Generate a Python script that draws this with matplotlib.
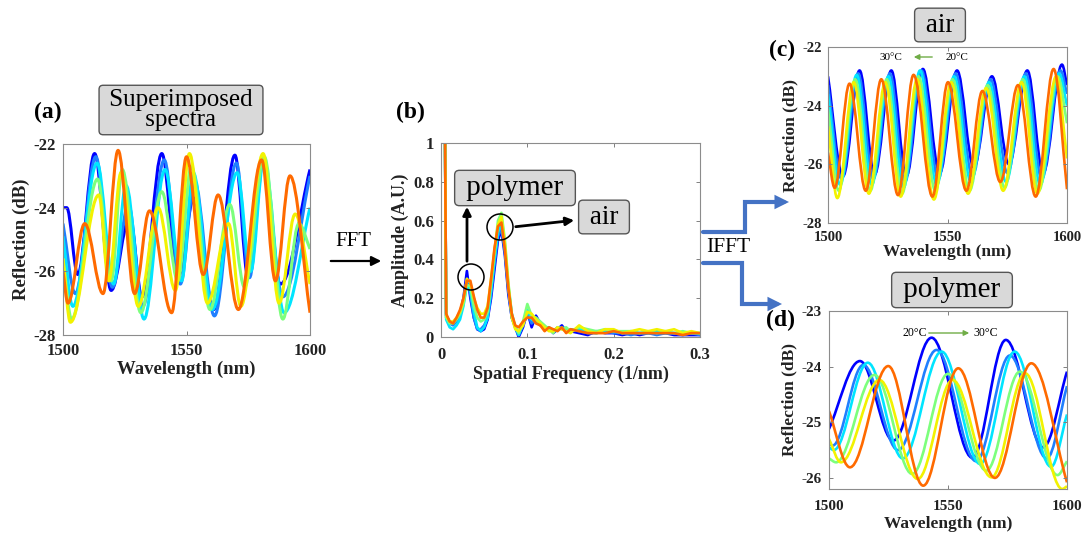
import matplotlib.pyplot as plt
from matplotlib.path import Path
from matplotlib.patches import PathPatch, FancyArrowPatch, Ellipse

plt.rcParams['font.family'] = ['Liberation Serif', 'DejaVu Serif']
plt.rcParams['axes.unicode_minus'] = False

# jet-like colours, 20 C (blue) -> 30 C (orange)
colors = ['#0000ff', '#1f7fff', '#00e5ff', '#7cff7c', '#f2f200', '#ff6a00']

# ---- (a) superimposed spectra: extrema (wavelength nm, dB) per curve
a_x = [
    [1500, 1501.5, 1506, 1512.8, 1519.5, 1527, 1532, 1540, 1546.5, 1553, 1561, 1569.6, 1575, 1580.6, 1588, 1600],
    [1500, 1505, 1513.3, 1520, 1526.5, 1532.3, 1541, 1547.5, 1553.3, 1561.3, 1570.2, 1575.5, 1581, 1589, 1600],
    [1500, 1504, 1513.8, 1520.5, 1525.5, 1532.8, 1541.3, 1548, 1552.7, 1560.5, 1570.5, 1576, 1581.3, 1589.5, 1600],
    [1500, 1503.5, 1514, 1519.5, 1524, 1531.5, 1540, 1546.5, 1552, 1559.5, 1567.5, 1573.5, 1581.5, 1589, 1595.5, 1600],
    [1500, 1503, 1514.5, 1518.5, 1523.5, 1530.5, 1538.5, 1545.5, 1551.2, 1558.5, 1567, 1572, 1581, 1587.5, 1594, 1600],
    [1500, 1502, 1508.8, 1516.2, 1522.3, 1529, 1535, 1544, 1550, 1556.8, 1562.8, 1571, 1580.4, 1586, 1591.9, 1600],
]
a_y = [
    [-24.0, -24.0, -26.1, -22.3, -26.6, -24.3, -26.8, -22.3, -26.2, -23.7, -27.2, -22.35, -26.2, -22.5, -26.4, -22.8],
    [-24.5, -26.7, -22.4, -26.5, -23.9, -27.1, -22.5, -26.4, -23.2, -27.4, -22.6, -26.2, -22.6, -26.8, -23.0],
    [-24.9, -27.1, -22.6, -26.4, -23.3, -27.5, -22.8, -26.3, -22.9, -27.2, -22.9, -26.0, -22.5, -27.3, -24.0],
    [-25.6, -27.5, -23.1, -26.3, -22.8, -27.3, -23.5, -26.3, -22.7, -27.2, -23.9, -26.5, -22.4, -27.5, -24.5, -25.3],
    [-25.6, -27.6, -23.6, -26.3, -22.9, -27.1, -24.0, -26.6, -22.3, -27.0, -24.5, -27.1, -22.3, -27.0, -24.2, -26.4],
    [-26.0, -27.0, -24.5, -26.7, -22.2, -26.7, -24.1, -27.3, -22.4, -26.1, -23.6, -27.2, -22.5, -26.3, -23.0, -27.3],
]

# ---- (b) FFT amplitude
freq = [0.004, 0.006, 0.01, 0.014, 0.018, 0.022, 0.026, 0.03, 0.034, 0.038, 0.042, 0.046, 0.05, 0.054,
        0.058, 0.062, 0.066, 0.07, 0.074, 0.078, 0.082, 0.086, 0.09, 0.095, 0.1, 0.105, 0.11, 0.115,
        0.12, 0.125, 0.13, 0.135, 0.14, 0.145, 0.15, 0.16, 0.17, 0.18, 0.19, 0.2, 0.21, 0.22, 0.23,
        0.24, 0.25, 0.26, 0.27, 0.28, 0.29, 0.3]
amp = [
    [1.5, 0.11, 0.08, 0.07, 0.09, 0.12, 0.2, 0.34, 0.2, 0.1, 0.04, 0.03, 0.04, 0.09, 0.2, 0.35, 0.5, 0.55,
     0.42, 0.22, 0.1, 0.05, 0.0, 0.05, 0.13, 0.05, 0.11, 0.07, 0.04, 0.05, 0.02, 0.04, 0.06, 0.03, 0.03,
     0.02, 0.01, 0.03, 0.02, 0.02, 0.01, 0.02, 0.01, 0.02, 0.02, 0.02, 0.01, 0.01, 0.01, 0.01],
    [1.5, 0.1, 0.07, 0.06, 0.08, 0.11, 0.18, 0.3, 0.22, 0.1, 0.04, 0.04, 0.06, 0.1, 0.22, 0.38, 0.52, 0.56,
     0.44, 0.24, 0.1, 0.05, 0.01, 0.06, 0.12, 0.07, 0.09, 0.06, 0.05, 0.04, 0.03, 0.05, 0.05, 0.03, 0.04,
     0.03, 0.02, 0.02, 0.03, 0.02, 0.02, 0.01, 0.02, 0.02, 0.01, 0.02, 0.02, 0.01, 0.02, 0.01],
    [1.5, 0.09, 0.05, 0.04, 0.06, 0.09, 0.16, 0.27, 0.24, 0.13, 0.05, 0.03, 0.05, 0.1, 0.24, 0.4, 0.54, 0.58,
     0.46, 0.26, 0.12, 0.05, 0.01, 0.07, 0.14, 0.09, 0.08, 0.07, 0.05, 0.05, 0.03, 0.04, 0.05, 0.04, 0.03,
     0.04, 0.03, 0.02, 0.03, 0.03, 0.02, 0.03, 0.02, 0.02, 0.03, 0.02, 0.02, 0.02, 0.02, 0.02],
    [1.5, 0.1, 0.07, 0.07, 0.09, 0.12, 0.17, 0.27, 0.26, 0.16, 0.1, 0.08, 0.09, 0.13, 0.27, 0.44, 0.6, 0.64,
     0.5, 0.28, 0.12, 0.05, 0.02, 0.08, 0.17, 0.11, 0.1, 0.08, 0.06, 0.04, 0.02, 0.05, 0.04, 0.05, 0.03,
     0.05, 0.04, 0.03, 0.04, 0.03, 0.03, 0.03, 0.02, 0.03, 0.02, 0.03, 0.02, 0.03, 0.02, 0.02],
    [1.5, 0.11, 0.08, 0.08, 0.1, 0.13, 0.19, 0.3, 0.28, 0.2, 0.15, 0.12, 0.12, 0.16, 0.3, 0.45, 0.58, 0.62,
     0.48, 0.27, 0.1, 0.04, 0.03, 0.06, 0.13, 0.12, 0.09, 0.07, 0.05, 0.03, 0.03, 0.05, 0.04, 0.03, 0.02,
     0.06, 0.03, 0.02, 0.04, 0.04, 0.02, 0.03, 0.04, 0.03, 0.04, 0.03, 0.04, 0.02, 0.03, 0.02],
    [1.5, 0.12, 0.08, 0.07, 0.1, 0.14, 0.2, 0.29, 0.29, 0.21, 0.14, 0.1, 0.1, 0.15, 0.3, 0.46, 0.57, 0.59,
     0.45, 0.25, 0.12, 0.06, 0.05, 0.08, 0.1, 0.1, 0.07, 0.06, 0.03, 0.05, 0.04, 0.03, 0.05, 0.02, 0.04,
     0.03, 0.02, 0.02, 0.02, 0.03, 0.02, 0.02, 0.02, 0.02, 0.02, 0.02, 0.02, 0.01, 0.02, 0.02],
]

# ---- (c) IFFT, air peak: extrema per curve
c_x = [
    [1500, 1506.3, 1513.2, 1519.5, 1526.5, 1532.8, 1539.7, 1546.7, 1554, 1561, 1568.6, 1575.7, 1583.4, 1590, 1597.9, 1600],
    [1500, 1505.7, 1512.6, 1518.9, 1525.9, 1532.2, 1539.1, 1546.1, 1553.4, 1560.4, 1568.0, 1575.1, 1582.8, 1589.4, 1597.3, 1600],
    [1500, 1505.1, 1512.0, 1518.3, 1525.3, 1531.6, 1538.5, 1545.5, 1552.8, 1559.8, 1567.4, 1574.5, 1582.2, 1588.8, 1596.7, 1600],
    [1500, 1504.5, 1511.4, 1517.7, 1524.6, 1531.0, 1537.9, 1544.9, 1552.2, 1559.2, 1566.8, 1573.9, 1581.6, 1588.2, 1596.1, 1600],
    [1500, 1503.9, 1510.8, 1517.1, 1524.0, 1530.4, 1537.3, 1544.3, 1551.6, 1558.6, 1566.2, 1573.3, 1581.0, 1587.6, 1595.5, 1600],
    [1500, 1502.8, 1509, 1515.8, 1522.3, 1529.3, 1535.8, 1543.7, 1550.2, 1557.9, 1564.6, 1572.1, 1579.5, 1586.9, 1594.4, 1600],
]
c_y = [
    [-23.0, -26.4, -22.8, -26.35, -22.8, -26.4, -22.75, -26.3, -22.8, -26.1, -23.0, -26.0, -22.8, -26.3, -22.6, -23.3],
    [-23.3, -26.5, -22.9, -26.5, -22.9, -26.6, -22.8, -26.5, -22.9, -26.4, -23.1, -26.3, -22.9, -26.5, -22.8, -23.6],
    [-23.6, -26.7, -22.95, -26.7, -23.0, -26.8, -22.8, -26.7, -23.0, -26.6, -23.2, -26.6, -23.0, -26.7, -22.9, -24.0],
    [-24.1, -26.9, -23.1, -26.9, -23.1, -27.0, -23.0, -26.9, -23.1, -26.9, -23.3, -26.8, -23.1, -26.9, -23.0, -24.6],
    [-24.7, -27.15, -23.2, -27.0, -23.2, -27.1, -23.1, -27.2, -23.2, -27.0, -23.4, -26.9, -23.2, -27.0, -23.0, -25.8],
    [-25.6, -26.8, -23.25, -26.9, -23.1, -27.05, -22.95, -27.1, -23.2, -26.9, -23.5, -26.6, -23.3, -27.1, -22.75, -26.85],
]

# ---- (d) IFFT, polymer peak: extrema per curve
d_x = [
    [1500, 1513, 1527, 1543.1, 1560.3, 1574.3, 1590, 1600],
    [1500, 1501.5, 1514.4, 1529, 1545.2, 1561.8, 1576, 1591.5, 1600],
    [1500, 1502, 1516.3, 1531, 1547.3, 1563.5, 1578, 1593.3, 1600],
    [1500, 1503, 1519.1, 1535, 1550, 1566.1, 1580.2, 1596, 1600],
    [1500, 1505, 1521.2, 1537.3, 1551.9, 1568.3, 1582.4, 1598, 1600],
    [1500, 1508.8, 1524.9, 1539.6, 1554.3, 1569.7, 1585, 1600],
]
d_y = [
    [-25.12, -23.9, -25.33, -23.48, -25.64, -23.52, -25.45, -24.09],
    [-25.38, -25.42, -23.97, -25.5, -23.7, -25.7, -23.8, -25.65, -24.35],
    [-25.45, -25.5, -23.93, -25.65, -23.73, -25.75, -23.73, -25.8, -24.86],
    [-25.65, -25.72, -24.15, -25.93, -24.13, -25.87, -24.09, -25.95, -25.7],
    [-25.3, -25.72, -24.24, -26.02, -24.24, -25.99, -24.12, -26.2, -26.15],
    [-24.8, -25.81, -23.99, -26.14, -24.03, -26.0, -23.94, -26.08],
]

W, H = 1086, 536


def fx(x):
    return x / W


def fy(y):
    return 1 - y / H


def rect(x0, y0, x1, y1):
    return [x0 / W, 1 - y1 / H, (x1 - x0) / W, (y1 - y0) / H]


def wave_path(xs, ys):
    # smooth curve through the extrema: horizontal tangent at each extremum
    verts = [(xs[0], ys[0])]
    codes = [Path.MOVETO]
    n = len(xs)
    for i in range(n - 1):
        x0, y0, x1, y1 = xs[i], ys[i], xs[i + 1], ys[i + 1]
        dx = x1 - x0
        c1 = (x0 + dx / 3, y0 + (y1 - y0) / 3) if i == 0 else (x0 + 0.36 * dx, y0)
        c2 = (x1 - dx / 3, y1 - (y1 - y0) / 3) if i == n - 2 else (x1 - 0.36 * dx, y1)
        verts += [c1, c2, (x1, y1)]
        codes += [Path.CURVE4] * 3
    return Path(verts, codes)


def style(ax, xt, xl, yt, yl, fs_tick, fs_lab, xlabel, ylabel, lpx=2, lpy=2, padx=6, pady=4):
    ax.set_xticks(xt)
    ax.set_xticklabels(xl, fontsize=fs_tick, fontweight='bold', color='#222222')
    ax.set_yticks(yt)
    ax.set_yticklabels(yl, fontsize=fs_tick, fontweight='bold', color='#222222')
    ax.tick_params(direction='in', top=True, right=True, length=3, width=0.7, color='#808080')
    ax.tick_params(axis='x', pad=padx)
    ax.tick_params(axis='y', pad=pady)
    for s in ax.spines.values():
        s.set_color('#8c8c8c')
        s.set_linewidth(0.8)
    ax.set_xlabel(xlabel, fontsize=fs_lab, fontweight='bold', color='#222222', labelpad=lpx)
    ax.set_ylabel(ylabel, fontsize=fs_lab, fontweight='bold', color='#222222', labelpad=lpy)


def boxed(x, y, s, fs, pad=0.16):
    fig.text(fx(x), fy(y), ' ' + s.replace('\n', ' \n ') + ' ', fontsize=fs, ha='center', va='center',
             linespacing=0.85,
             bbox=dict(boxstyle='round,pad=%s' % pad, fc='#d9d9d9', ec='#555555', lw=1.0))


fig = plt.figure(figsize=(10.86, 5.36), dpi=100)

# (a)
ax1 = fig.add_axes(rect(63, 144, 310, 335))
for xs, ys, c in zip(a_x, a_y, colors):
    ax1.add_patch(PathPatch(wave_path(xs, ys), fill=False, ec=c, lw=2.2, joinstyle='round'))
ax1.set_xlim(1500, 1600)
ax1.set_ylim(-28, -22)
style(ax1, [1500, 1550, 1600], ['1500', '1550', '1600'], [-28, -26, -24, -22],
      ['-28', '-26', '-24', '-22'], 12, 13.5, 'Wavelength (nm)', 'Reflection (dB)', 1, 3, 6, 5)

# (b)
ax2 = fig.add_axes(rect(441, 143, 700, 337))
for ys, c in zip(amp, colors):
    ax2.plot(freq, ys, color=c, lw=1.9, solid_joinstyle='round')
ax2.set_xlim(0, 0.3)
ax2.set_ylim(0, 1)
style(ax2, [0, 0.1, 0.2, 0.3], ['0', '0.1', '0.2', '0.3'], [0, 0.2, 0.4, 0.6, 0.8, 1],
      ['0', '0.2', '0.4', '0.6', '0.8', '1'], 12, 13, 'Spatial Frequency (1/nm)', 'Amplitude (A.U.)', 2, 3, 7, 5)

# (c)
ax3 = fig.add_axes(rect(828, 47, 1067, 223))
for xs, ys, c in zip(c_x, c_y, colors):
    ax3.add_patch(PathPatch(wave_path(xs, ys), fill=False, ec=c, lw=1.9, joinstyle='round'))
ax3.set_xlim(1500, 1600)
ax3.set_ylim(-28, -22)
style(ax3, [1500, 1550, 1600], ['1500', '1550', '1600'], [-28, -26, -24, -22],
      ['-28', '-26', '-24', '-22'], 10.5, 12.5, 'Wavelength (nm)', 'Reflection (dB)', 0, 3, 6, 4)

# (d)
ax4 = fig.add_axes(rect(829, 311, 1067, 489))
for xs, ys, c in zip(d_x, d_y, colors):
    ax4.add_patch(PathPatch(wave_path(xs, ys), fill=False, ec=c, lw=1.9, joinstyle='round'))
ax4.set_xlim(1500, 1600)
ax4.set_ylim(-26.2, -23)
style(ax4, [1500, 1550, 1600], ['1500', '1550', '1600'], [-26, -25, -24, -23],
      ['-26', '-25', '-24', '-23'], 11, 12.5, 'Wavelength (nm)', 'Reflection (dB)', 2, 3, 8, 5)

# panel letters and title boxes
fig.text(fx(48), fy(112), '(a)', fontsize=17, fontweight='bold', ha='center', va='center')
fig.text(fx(410), fy(112), '(b)', fontsize=17, fontweight='bold', ha='center', va='center')
fig.text(fx(782), fy(50), '(c)', fontsize=17, fontweight='bold', ha='center', va='center')
fig.text(fx(780), fy(320), '(d)', fontsize=17, fontweight='bold', ha='center', va='center')

boxed(181, 110, 'Superimposed\nspectra', 18)
boxed(515, 188, 'polymer', 21)
boxed(604, 217, 'air', 19.5)
boxed(940, 25, 'air', 19.5)
boxed(952, 290, 'polymer', 21)

# circles and arrows in (b)
for cx, cy in [(471, 277), (500, 227)]:
    fig.add_artist(Ellipse((fx(cx), fy(cy)), 26 / W, 26 / H, transform=fig.transFigure,
                           fill=False, ec='black', lw=1.1))
fig.add_artist(FancyArrowPatch((fx(467), fy(264)), (fx(467), fy(204)), transform=fig.transFigure,
                               arrowstyle='-|>', mutation_scale=12, color='black', lw=2))
fig.add_artist(FancyArrowPatch((fx(513), fy(227)), (fx(577), fy(220)), transform=fig.transFigure,
                               arrowstyle='-|>', mutation_scale=12, color='black', lw=2))

# FFT arrow
fig.text(fx(353), fy(242), 'FFT', fontsize=15, ha='center', va='center')
fig.add_artist(FancyArrowPatch((fx(328), fy(261)), (fx(384), fy(261)), transform=fig.transFigure,
                               arrowstyle='-|>', mutation_scale=14, color='black', lw=1.6))

# IFFT elbow arrows
fig.text(fx(728), fy(248), 'IFFT', fontsize=15.5, ha='center', va='center')
up = Path([(fx(703), fy(232)), (fx(745), fy(232)), (fx(745), fy(202)), (fx(789), fy(202))],
          [Path.MOVETO, Path.LINETO, Path.LINETO, Path.LINETO])
down = Path([(fx(703), fy(263)), (fx(742), fy(263)), (fx(742), fy(304)), (fx(782), fy(304))],
            [Path.MOVETO, Path.LINETO, Path.LINETO, Path.LINETO])
for p in (up, down):
    fig.add_artist(FancyArrowPatch(path=p, transform=fig.transFigure, arrowstyle='-|>',
                                   mutation_scale=14, color='#4472c4', lw=3, joinstyle='miter'))

# temperature annotations
fig.text(fx(891), fy(57), '30°C', fontsize=8, ha='center', va='center')
fig.text(fx(957), fy(57), '20°C', fontsize=8, ha='center', va='center')
fig.add_artist(FancyArrowPatch((fx(935), fy(57)), (fx(911), fy(57)), transform=fig.transFigure,
                               arrowstyle='-|>', mutation_scale=8, color='#70ad47', lw=1))
fig.text(fx(915), fy(333), '20°C', fontsize=8.5, ha='center', va='center')
fig.text(fx(986), fy(333), '30°C', fontsize=8.5, ha='center', va='center')
fig.add_artist(FancyArrowPatch((fx(926), fy(333)), (fx(972), fy(333)), transform=fig.transFigure,
                               arrowstyle='-|>', mutation_scale=8, color='#70ad47', lw=1))

fig.savefig('out.png', dpi=100)
